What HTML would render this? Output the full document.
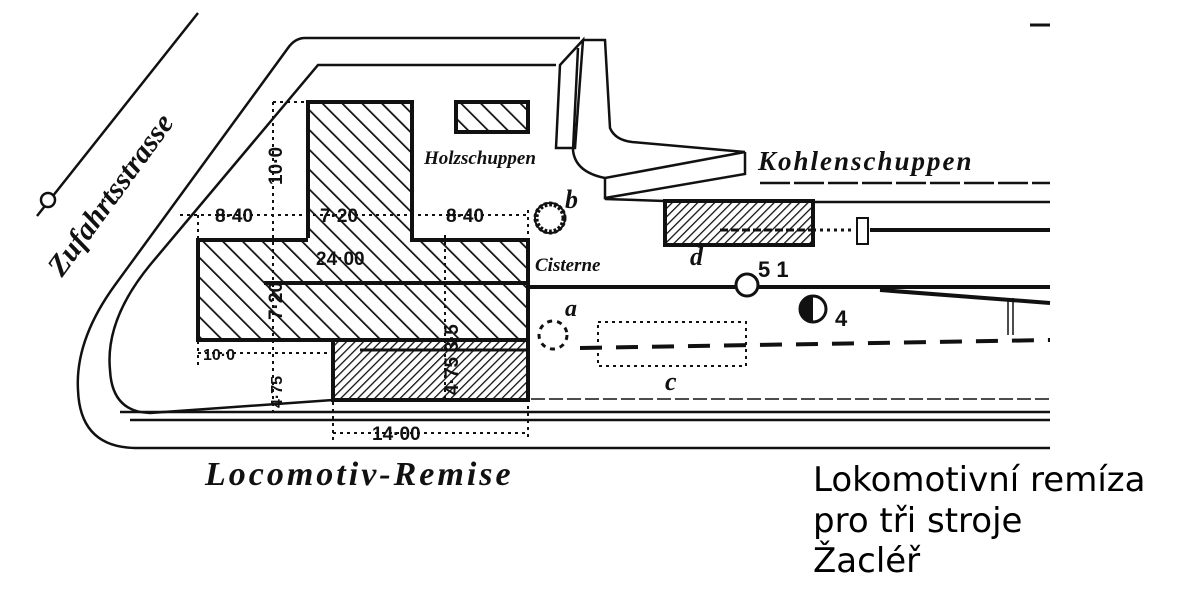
<!DOCTYPE html>
<html><head><meta charset="utf-8"><style>
html,body{margin:0;padding:0;background:#fff;}
svg{display:block}
.h{font-family:"Liberation Serif",serif;font-style:italic;font-weight:bold;fill:#111}
.d{font-family:"Liberation Sans",sans-serif;font-weight:bold;fill:#111}
</style></head><body>
<svg width="1200" height="600" viewBox="0 0 1200 600" xmlns="http://www.w3.org/2000/svg">
<defs>
<pattern id="hat" patternUnits="userSpaceOnUse" width="14" height="14" patternTransform="rotate(-45)">
<rect width="14" height="14" fill="#fff"/><line x1="0" y1="0" x2="0" y2="14" stroke="#111" stroke-width="3.5"/></pattern>
<pattern id="hat2" patternUnits="userSpaceOnUse" width="6" height="6" patternTransform="rotate(45)">
<rect width="6" height="6" fill="#fff"/><line x1="0" y1="0" x2="0" y2="6" stroke="#111" stroke-width="2.6"/></pattern>
</defs>
<rect width="1200" height="600" fill="#fff"/>
<g fill="none" stroke="#111" stroke-width="2.5">
<line x1="198" y1="13" x2="37" y2="216"/>
<circle cx="48" cy="200" r="7" fill="#fff"/>
<path d="M580,38 L305,38 Q295,38 288,48 L115,285 Q75,340 78,390 Q80,447 135,448 L1050,448"/>
<path d="M556,65 L318,65 L150,265 Q105,320 110,370 Q112,412 150,413 L333,400"/>
<line x1="120" y1="412" x2="1050" y2="412"/>
<line x1="130" y1="420" x2="1050" y2="420"/>
<line x1="333" y1="399" x2="1050" y2="399" stroke-dasharray="14 4" stroke-width="1.5"/>
<path d="M583,40 L605,40 L610,128 Q615,140 632,142 L745,152 L605,178 Q575,172 573,150 L578,48"/>
<path d="M556,148 L560,65 L583,40 L575,148 Z"/>
<path d="M605,178 L605,198 L745,174 L745,152"/>
<line x1="605" y1="199" x2="665" y2="201"/>
<line x1="760" y1="183" x2="1050" y2="183" stroke-dasharray="30 4"/>
<line x1="813" y1="202" x2="1050" y2="202"/>
<line x1="870" y1="230" x2="1050" y2="230" stroke-width="4"/>
<line x1="813" y1="230" x2="855" y2="230" stroke-dasharray="3 4" stroke-width="3"/>
<rect x="857" y="218" width="11" height="26" stroke-width="2"/>
<line x1="270" y1="287" x2="1050" y2="287" stroke-width="4"/>
<path d="M880,290 L1050,303" stroke-width="4"/>
<line x1="1008" y1="298" x2="1008" y2="335" stroke-width="1.5"/>
<line x1="1013" y1="298" x2="1013" y2="335" stroke-width="1.5"/>
<line x1="580" y1="348" x2="1050" y2="340" stroke-width="4" stroke-dasharray="22 14"/>
<line x1="333" y1="346" x2="528" y2="346" stroke-width="2" stroke-dasharray="16 10"/>
<rect x="598" y="322" width="148" height="44" stroke-dasharray="3 4" stroke-width="2"/>
<circle cx="553" cy="335" r="14" stroke-dasharray="5 5" stroke-width="3"/>
</g>
<circle cx="747" cy="285" r="11" fill="#fff" stroke="#111" stroke-width="3"/>
<circle cx="813" cy="309" r="13" fill="#fff" stroke="#111" stroke-width="3"/>
<path d="M813,296 A13,13 0 0 0 813,322 Z" fill="#111"/>
<circle cx="550" cy="218" r="14" fill="#fff" stroke="#111" stroke-width="5" stroke-dasharray="3 2"/>
<circle cx="550" cy="218" r="15" fill="none" stroke="#111" stroke-width="2"/>
<rect x="665" y="201" width="148" height="44" fill="url(#hat2)" stroke="#111" stroke-width="4"/>
<line x1="720" y1="230" x2="813" y2="230" stroke="#111" stroke-width="3" stroke-dasharray="8 3"/>
<rect x="456" y="102" width="72" height="30" fill="url(#hat)" stroke="#111" stroke-width="4"/>
<rect x="308" y="102" width="104" height="140" fill="url(#hat)" stroke="#111" stroke-width="4"/>
<rect x="198" y="240" width="330" height="100" fill="url(#hat)" stroke="#111" stroke-width="4"/>
<rect x="308" y="238" width="102" height="4" fill="url(#hat)"/>
<line x1="264" y1="283" x2="528" y2="283" stroke="#111" stroke-width="4"/>
<rect x="333" y="340" width="195" height="60" fill="url(#hat2)" stroke="#111" stroke-width="4"/>
<line x1="360" y1="350" x2="528" y2="350" stroke="#111" stroke-width="3"/>
<g stroke="#111" stroke-width="2" stroke-dasharray="3 4" fill="none">
<line x1="180" y1="215" x2="528" y2="215"/>
<line x1="273" y1="102" x2="308" y2="102"/>
<line x1="273" y1="102" x2="273" y2="412"/>
<line x1="198" y1="215" x2="198" y2="365"/>
<line x1="198" y1="353" x2="333" y2="353"/>
<line x1="333" y1="353" x2="333" y2="440"/>
<line x1="528" y1="210" x2="528" y2="440"/>
<line x1="333" y1="433" x2="528" y2="433"/>
<line x1="445" y1="235" x2="445" y2="400"/>
</g>
<g class="d" font-size="19">
<text x="215" y="222">8·40</text>
<text x="320" y="222">7·20</text>
<text x="446" y="222">8·40</text>
<text x="316" y="265">24·00</text>
<text x="203" y="360" font-size="16">10·0</text>
<text x="372" y="440">14·00</text>
<text transform="translate(282,185) rotate(-90)">10·0</text>
<text transform="translate(282,320) rotate(-90)">7·20</text>
<text transform="translate(282,408) rotate(-90)" font-size="16">4·75</text>
<text transform="translate(458,395) rotate(-90)">4·75 3·5</text>
</g>
<g class="h">
<text transform="translate(62,278) rotate(-54)" font-size="30">Zufahrtsstrasse</text>
<text x="205" y="485" font-size="34" letter-spacing="3">Locomotiv-Remise</text>
<text x="424" y="164" font-size="19">Holzschuppen</text>
<text x="758" y="170" font-size="27" letter-spacing="2">Kohlenschuppen</text>
<text x="535" y="271" font-size="19">Cisterne</text>
<text x="565" y="208" font-size="26">b</text>
<text x="565" y="316" font-size="24">a</text>
<text x="690" y="265" font-size="26">d</text>
<text x="665" y="390" font-size="26">c</text>
</g>
<text x="758" y="277" class="d" font-size="22" font-weight="normal">5 1</text>
<text x="835" y="326" class="d" font-size="22" font-weight="normal">4</text>
<line x1="1030" y1="25" x2="1050" y2="25" stroke="#111" stroke-width="3"/>
<g font-family="'DejaVu Sans','Liberation Sans',sans-serif" font-size="34" fill="#000">
<text x="813" y="491">Lokomotivní remíza</text>
<text x="813" y="532">pro tři stroje</text>
<text x="813" y="572">Žacléř</text>
</g>
</svg>
</body></html>
